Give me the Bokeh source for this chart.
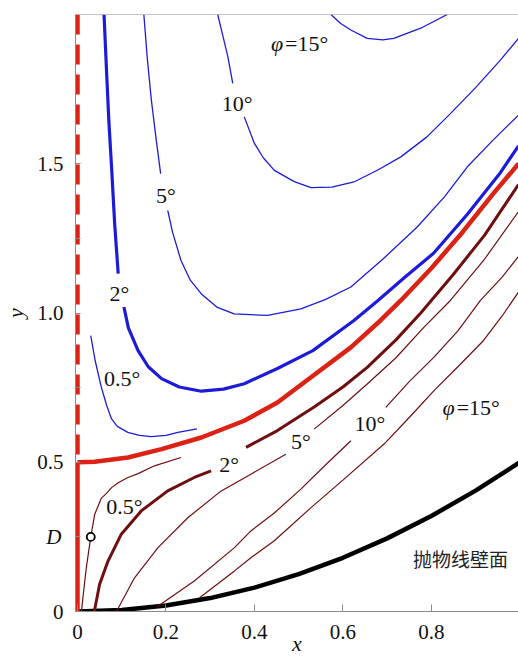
from bokeh.plotting import figure
from bokeh.models import Range1d, FixedTicker, Span, LinearAxis
from bokeh.core.properties import value
from bokeh.embed import file_html
from bokeh.resources import INLINE

# ---------------- data ----------------
# parabolic wall
wall_x = [0.0, 0.1, 0.2, 0.3, 0.4, 0.5, 0.6, 0.7, 0.8, 0.9, 1.0]
wall_y = [0.0, 0.005, 0.02, 0.045, 0.08, 0.125, 0.18, 0.245, 0.32, 0.405, 0.5]

# red separatrix (thick)
red_x = [0.0, 0.039, 0.114, 0.190, 0.280, 0.377, 0.452, 0.528, 0.618, 0.685, 0.731, 0.800, 0.870, 0.940, 0.997]
red_y = [0.5, 0.502, 0.516, 0.544, 0.583, 0.639, 0.700, 0.785, 0.885, 0.975, 1.042, 1.150, 1.270, 1.400, 1.500]
red_wall_y = [0.0, 0.5]
red_dash_y = [2.0, 0.5]

# blue contours (upper region)
b05_x = [0.030, 0.040, 0.054, 0.066, 0.077, 0.090, 0.114, 0.140, 0.167, 0.200, 0.227, 0.270]
b05_y = [0.924, 0.840, 0.751, 0.690, 0.645, 0.620, 0.600, 0.590, 0.586, 0.590, 0.600, 0.612]

b2a_x = [0.060, 0.066, 0.071, 0.077, 0.084, 0.092]
b2a_y = [2.000, 1.800, 1.640, 1.490, 1.300, 1.132]
b2b_x = [0.105, 0.115, 0.137, 0.160, 0.190, 0.230, 0.280, 0.330, 0.377, 0.452, 0.532, 0.625, 0.678, 0.740, 0.805, 0.881, 0.956, 0.997]
b2b_y = [1.020, 0.950, 0.874, 0.820, 0.780, 0.752, 0.738, 0.745, 0.763, 0.814, 0.874, 0.975, 1.040, 1.120, 1.200, 1.330, 1.470, 1.560]

b5a_x = [0.150, 0.158, 0.167, 0.178, 0.188]
b5a_y = [2.000, 1.850, 1.713, 1.580, 1.467]
b5b_x = [0.204, 0.215, 0.234, 0.255, 0.280, 0.315, 0.354, 0.430, 0.505, 0.560, 0.618, 0.690, 0.768, 0.830, 0.881, 0.940, 0.997]
b5b_y = [1.344, 1.270, 1.176, 1.110, 1.064, 1.020, 0.997, 0.992, 1.014, 1.045, 1.087, 1.180, 1.288, 1.390, 1.489, 1.580, 1.663]

b10a_x = [0.317, 0.330, 0.340, 0.351]
b10a_y = [2.000, 1.920, 1.858, 1.769]
b10b_x = [0.377, 0.400, 0.420, 0.445, 0.490, 0.528, 0.575, 0.625, 0.680, 0.731, 0.790, 0.843, 0.900, 0.956, 0.997]
b10b_y = [1.657, 1.568, 1.520, 1.478, 1.440, 1.420, 1.422, 1.439, 1.480, 1.523, 1.590, 1.668, 1.755, 1.847, 1.920]

b15_x = [0.573, 0.595, 0.618, 0.655, 0.690, 0.715, 0.776, 0.836]
b15_y = [2.000, 1.970, 1.948, 1.920, 1.915, 1.920, 1.954, 2.000]

# dark red contours (lower region)
r05_x = [0.009, 0.014, 0.020, 0.030, 0.039, 0.054, 0.065, 0.077, 0.092, 0.114, 0.137, 0.174, 0.234]
r05_y = [0.000, 0.070, 0.147, 0.250, 0.326, 0.380, 0.395, 0.415, 0.431, 0.449, 0.462, 0.488, 0.516]

r2a_x = [0.038, 0.050, 0.069, 0.099, 0.144, 0.204, 0.264, 0.302]
r2a_y = [0.000, 0.091, 0.169, 0.259, 0.337, 0.404, 0.449, 0.471]
r2b_x = [0.381, 0.452, 0.535, 0.600, 0.655, 0.720, 0.776, 0.850, 0.920, 0.997]
r2b_y = [0.550, 0.606, 0.685, 0.752, 0.818, 0.910, 1.000, 1.130, 1.260, 1.430]

r5a_x = [0.088, 0.129, 0.182, 0.250, 0.325, 0.392, 0.471]
r5a_y = [0.000, 0.113, 0.214, 0.315, 0.404, 0.460, 0.527]
r5b_x = [0.535, 0.600, 0.655, 0.720, 0.783, 0.843, 0.920, 0.997]
r5b_y = [0.611, 0.690, 0.762, 0.850, 0.952, 1.042, 1.180, 1.340]

r10a_x = [0.180, 0.264, 0.355, 0.392, 0.445, 0.505, 0.560, 0.618]
r10a_y = [0.016, 0.102, 0.214, 0.270, 0.330, 0.410, 0.490, 0.572]
r10b_x = [0.697, 0.750, 0.806, 0.860, 0.911, 0.960, 0.997]
r10b_y = [0.684, 0.770, 0.852, 0.940, 1.042, 1.120, 1.190]

r15_x = [0.276, 0.355, 0.392, 0.445, 0.528, 0.600, 0.693, 0.750, 0.806, 0.860, 0.918, 0.960, 0.997]
r15_y = [0.046, 0.136, 0.180, 0.237, 0.348, 0.440, 0.561, 0.650, 0.740, 0.820, 0.908, 0.990, 1.070]

# point D
d_x = [0.030]
d_y = [0.25]

# contour labels
lab_text = ["0.5°", "2°", "5°", "10°", "0.5°", "2°", "5°", "10°"]
lab_x = [0.101, 0.095, 0.200, 0.361, 0.106, 0.343, 0.505, 0.661]
lab_y = [0.780, 1.064, 1.394, 1.701, 0.352, 0.494, 0.570, 0.631]
phi_x = [0.467, 0.855]
phi_y = [1.904, 0.685]
phi_rest = ["=15°", "=15°"]
wall_label = "抛物线壁面"

x_ticks = [0, 0.2, 0.4, 0.6, 0.8]
x_tick_labels = ["0", "0.2", "0.4", "0.6", "0.8"]
y_ticks = [0, 0.25, 0.5, 0.75, 1.0, 1.25, 1.5]
y_tick_labels = ["0", "", "0.5", "", "1.0", "", "1.5"]
d_tick = [0.25]
d_tick_label = ["D"]

# ---------------- styling ----------------
BLUE = "#1c1cd8"
RED = "#dc2214"
DARK = "#6e0e0e"
SERIF = "Liberation Serif"
GRAY = "#8a8a8a"
INK = "#111111"

p = figure(width=518, height=659,
           x_range=Range1d(-0.0045, 0.997), y_range=Range1d(0, 2.0),
           output_backend="svg", toolbar_location=None,
           min_border_left=74, min_border_right=0, min_border_top=14, min_border_bottom=48)
p.outline_line_color = None
p.grid.visible = False

for ax in (p.xaxis, p.yaxis):
    ax.axis_line_color = GRAY
    ax.major_tick_line_color = GRAY
    ax.minor_tick_line_color = None
    ax.major_tick_out = 0
    ax.major_label_text_font = SERIF
    ax.major_label_text_font_size = "21px"
    ax.major_label_text_color = INK

p.xaxis.ticker = FixedTicker(ticks=x_ticks)
p.xaxis.major_label_overrides = dict(zip(x_ticks, x_tick_labels))
p.xaxis.major_tick_in = 7
p.xaxis.major_label_standoff = 13
p.xaxis.axis_label = "x"
p.xaxis.axis_label_text_font = SERIF
p.xaxis.axis_label_text_font_style = "italic"
p.xaxis.axis_label_text_font_size = "22px"
p.xaxis.axis_label_text_color = INK
p.xaxis.axis_label_standoff = -11

p.yaxis.ticker = FixedTicker(ticks=y_ticks)
p.yaxis.major_label_overrides = dict(zip(y_ticks, y_tick_labels))
p.yaxis.major_tick_in = 5
p.yaxis.major_label_standoff = 12

# outer left axis: italic "D" tick label and the "y" axis title
ax_d = LinearAxis(ticker=FixedTicker(ticks=d_tick),
                  major_label_overrides=dict(zip(d_tick, d_tick_label)),
                  axis_line_color=None, major_tick_line_color=None, minor_tick_line_color=None,
                  major_tick_in=0, major_tick_out=0,
                  major_label_standoff=-27,
                  major_label_text_font=SERIF, major_label_text_font_size="21px",
                  major_label_text_font_style="italic", major_label_text_color=INK,
                  axis_label="y", axis_label_text_font=SERIF, axis_label_text_font_size="22px",
                  axis_label_text_font_style="italic", axis_label_text_color=INK,
                  axis_label_standoff=15)
p.add_layout(ax_d, "left")

p.add_layout(Span(location=2.0, dimension="width", line_color=GRAY, line_width=1))

# wall
p.line(wall_x, wall_y, line_color="black", line_width=4.5)

# red separatrix
p.line([0, 0], red_wall_y, line_color=RED, line_width=4.5)
p.line([0, 0], red_dash_y, line_color=RED, line_width=4.5, line_dash="20 10")
p.line(red_x, red_y, line_color=RED, line_width=4.5)

# blue contours
for xs, ys, w in [(b05_x, b05_y, 1.3), (b2a_x, b2a_y, 3.2), (b2b_x, b2b_y, 3.2),
                  (b5a_x, b5a_y, 1.3), (b5b_x, b5b_y, 1.3), (b10a_x, b10a_y, 1.3),
                  (b10b_x, b10b_y, 1.3), (b15_x, b15_y, 1.3)]:
    p.line(xs, ys, line_color=BLUE, line_width=w)

# dark red contours
for xs, ys, w in [(r05_x, r05_y, 1.2), (r2a_x, r2a_y, 3.0), (r2b_x, r2b_y, 3.0),
                  (r5a_x, r5a_y, 1.2), (r5b_x, r5b_y, 1.2), (r10a_x, r10a_y, 1.2),
                  (r10b_x, r10b_y, 1.2), (r15_x, r15_y, 1.2)]:
    p.line(xs, ys, line_color=DARK, line_width=w)

p.scatter(d_x, d_y, size=8, fill_color="white", line_color="black", line_width=1.8)

# labels
p.text(lab_x, lab_y, text=lab_text, text_font=value(SERIF), text_font_size="22px",
       text_align="center", text_baseline="middle", text_color=INK)
p.text(phi_x, phi_y, text=["φ", "φ"], text_font=value(SERIF), text_font_size="22px",
       text_font_style="italic", text_align="right", text_baseline="middle",
       text_color=INK, x_offset=-1)
p.text(phi_x, phi_y, text=phi_rest, text_font=value(SERIF), text_font_size="22px",
       text_align="left", text_baseline="middle", text_color=INK, x_offset=1)
p.text([0.866], [0.176], text=[wall_label], text_font=value("Noto Sans CJK SC"),
       text_font_size="19px", text_align="center", text_baseline="middle", text_color="#222222")

open("out.html", "w").write(file_html(p, INLINE))
